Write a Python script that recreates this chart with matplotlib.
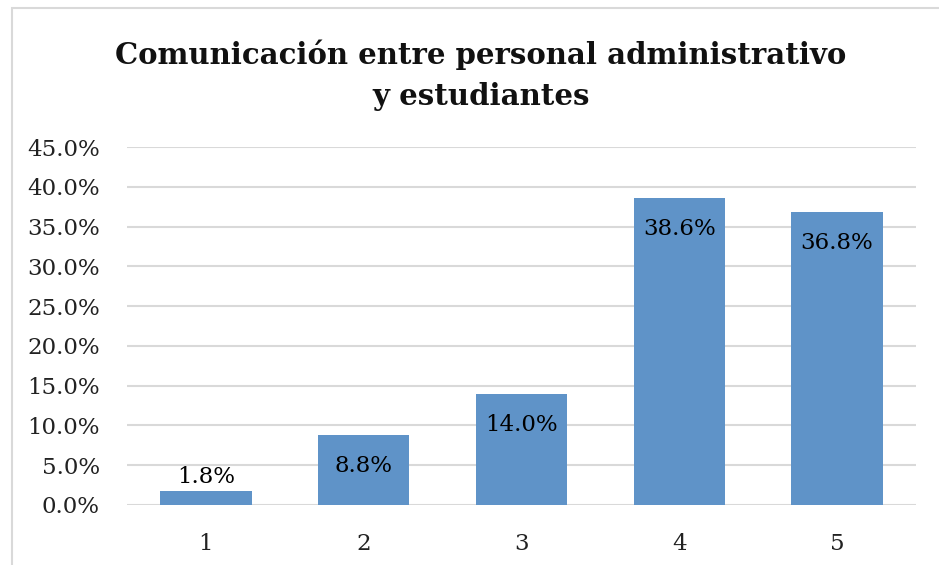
import matplotlib
matplotlib.use('Agg')
import matplotlib.pyplot as plt
from matplotlib.patches import Rectangle
from matplotlib.ticker import FuncFormatter

categories = ['1', '2', '3', '4', '5']
values = [1.8, 8.8, 14.0, 38.6, 36.8]
title = 'Comunicación entre personal administrativo\ny estudiantes'

plt.rcParams['font.family'] = ['DejaVu Serif']

fig = plt.figure(figsize=(9.39, 5.65), dpi=100)
fig.patches.append(Rectangle((12 / 939, -0.1), 1.2, 1.1 - 8 / 565, transform=fig.transFigure,
                             fill=False, edgecolor='#d9d9d9', linewidth=1.5))
ax = fig.add_axes([0.1352, 0.1062, 0.8403, 0.6336])

x = list(range(len(categories)))
bars = ax.bar(x, values, width=0.58, color='#5f93c8', zorder=3)

for xi, v in zip(x, values):
    if v < 5:
        ax.annotate('%.1f%%' % v, (xi, v), xytext=(0, 2), textcoords='offset points',
                    ha='center', va='bottom', fontsize=16.5)
    else:
        ax.annotate('%.1f%%' % v, (xi, v), xytext=(0, -22.5), textcoords='offset points',
                    ha='center', va='center', fontsize=16.5)

ax.set_ylim(0, 45)
ax.set_xlim(-0.5, 4.5)
ax.set_yticks(range(0, 46, 5))
ax.yaxis.set_major_formatter(FuncFormatter(lambda v, p: '%.1f%%' % v))
ax.set_xticks(x)
ax.set_xticklabels(categories)
ax.tick_params(axis='both', length=0, labelsize=16.5, colors='#222222')
ax.tick_params(axis='x', pad=20)
ax.tick_params(axis='y', pad=19.5)
ax.grid(axis='y', color='#d9d9d9', linewidth=1.5, zorder=0)
for s in ax.spines.values():
    s.set_visible(False)

fig.text(0.512, 0.867, title, ha='center', va='center', fontsize=21, fontweight='bold',
         linespacing=1.5, color='#111111')

fig.savefig('out.png', dpi=100)
